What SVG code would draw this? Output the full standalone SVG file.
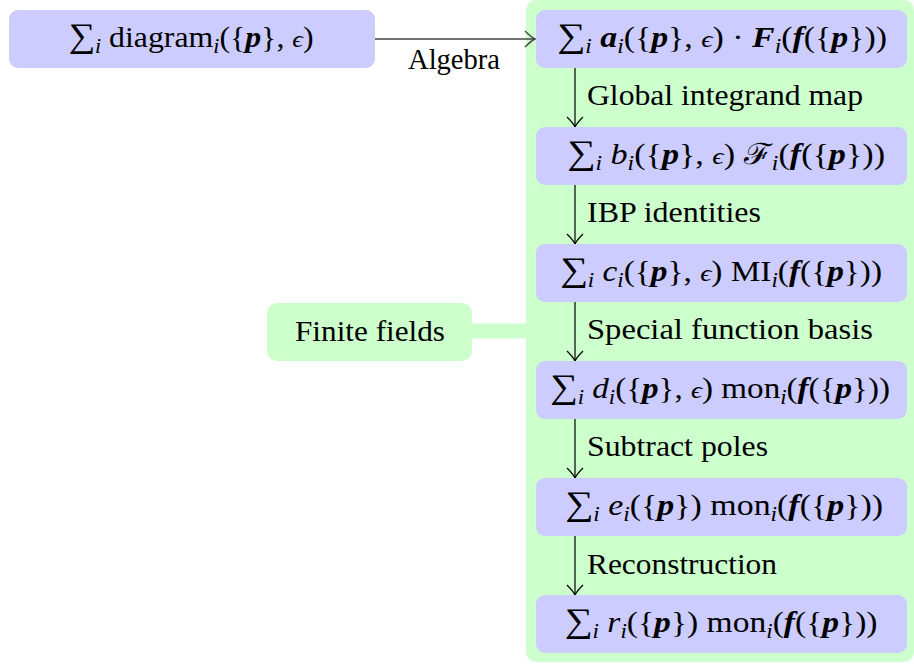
<svg xmlns="http://www.w3.org/2000/svg" width="914" height="666" viewBox="0 0 914 666" font-family="'Liberation Serif', 'DejaVu Serif', serif">
<style>
.bg{fill:#ccffcc}
.node{fill:#ccccff}
.ff{fill:#ccffcc}
text{font-size:29px;fill:#000}
.m{text-anchor:middle}
.it{font-style:italic}
.bi{font-style:italic;font-weight:bold}
.sub{font-size:20px;font-style:italic}
.sum{font-size:34px}
.eps{font-style:italic;font-size:24px}
.cal{font-style:normal}
.arr{fill:none;stroke:#000;stroke-width:1.2}
.harr{fill:none;stroke:#444;stroke-width:1.5}
.band{fill:none;stroke:#ccffcc;stroke-width:15}
</style>
<defs>
<marker id="to" markerUnits="userSpaceOnUse" viewBox="-12 -10 14 20" markerWidth="14" markerHeight="20" refX="0" refY="0" orient="auto" overflow="visible">
<path d="M -10,-8 Q -3.5,-1.5 0,0 Q -3.5,1.5 -10,8" fill="none" stroke="#000" stroke-width="1.2"/>
</marker>
<marker id="toh" markerUnits="userSpaceOnUse" viewBox="-12 -10 14 20" markerWidth="14" markerHeight="20" refX="0" refY="0" orient="auto" overflow="visible">
<path d="M -10,-8 Q -3.5,-1.5 0,0 Q -3.5,1.5 -10,8" fill="none" stroke="#444" stroke-width="1.4"/>
</marker>
</defs>
<g id="group-bg"><rect class="bg" x="526" y="0" width="388" height="662" rx="10"/></g>
<g id="connectors">
<line class="band" x1="470" y1="331" x2="528" y2="331"/>
<line class="harr" x1="375" y1="39" x2="535" y2="39" marker-end="url(#toh)"/>
<line class="arr" x1="575" y1="68" x2="575" y2="127" marker-end="url(#to)"/>
<line class="arr" x1="575" y1="185" x2="575" y2="244" marker-end="url(#to)"/>
<line class="arr" x1="575" y1="302" x2="575" y2="361" marker-end="url(#to)"/>
<line class="arr" x1="575" y1="419" x2="575" y2="478" marker-end="url(#to)"/>
<line class="arr" x1="575" y1="536" x2="575" y2="595" marker-end="url(#to)"/>
<text font-family="Liberation Serif" x="408" y="69" textLength="92" lengthAdjust="spacingAndGlyphs">Algebra</text>
<text font-family="Liberation Serif" x="587" y="105" textLength="276" lengthAdjust="spacingAndGlyphs">Global integrand map</text>
<text font-family="Liberation Serif" x="587" y="222" textLength="174" lengthAdjust="spacingAndGlyphs">IBP identities</text>
<text font-family="Liberation Serif" x="587" y="339" textLength="286" lengthAdjust="spacingAndGlyphs">Special function basis</text>
<text font-family="Liberation Serif" x="587" y="456" textLength="181" lengthAdjust="spacingAndGlyphs">Subtract poles</text>
<text font-family="Liberation Serif" x="587" y="574" textLength="190" lengthAdjust="spacingAndGlyphs">Reconstruction</text>
</g>
<g id="node-diagram">
<rect class="node" x="9" y="10" width="366" height="58" rx="9"/>
<text class="m" x="191" y="47" textLength="245" lengthAdjust="spacingAndGlyphs"><tspan class="sum">∑</tspan><tspan class="sub" dy="6">i</tspan><tspan dy="-6"> diagram</tspan><tspan class="sub" dy="6">i</tspan><tspan dy="-6">({</tspan><tspan class="bi">p</tspan><tspan>}, </tspan><tspan class="eps">ϵ</tspan><tspan>)</tspan></text>
</g>
<g id="node-a">
<rect class="node" x="536" y="10" width="371" height="58" rx="9"/>
<text class="m" x="722" y="47" textLength="330" lengthAdjust="spacingAndGlyphs"><tspan class="sum">∑</tspan><tspan class="sub" dy="6">i</tspan><tspan dy="-6" class="bi"> a</tspan><tspan class="sub" dy="6">i</tspan><tspan dy="-6">({</tspan><tspan class="bi">p</tspan><tspan>}, </tspan><tspan class="eps">ϵ</tspan><tspan>) · </tspan><tspan class="bi">F</tspan><tspan class="sub" dy="6">i</tspan><tspan dy="-6">(</tspan><tspan class="bi">f</tspan><tspan>({</tspan><tspan class="bi">p</tspan><tspan>}))</tspan></text>
</g>
<g id="node-b">
<rect class="node" x="536" y="127" width="371" height="58" rx="9"/>
<text class="m" x="726" y="164" textLength="318" lengthAdjust="spacingAndGlyphs"><tspan class="sum">∑</tspan><tspan class="sub" dy="6">i</tspan><tspan dy="-6" class="it"> b</tspan><tspan class="sub" dy="6">i</tspan><tspan dy="-6">({</tspan><tspan class="bi">p</tspan><tspan>}, </tspan><tspan class="eps">ϵ</tspan><tspan>) </tspan><tspan class="cal">ℱ</tspan><tspan class="sub" dy="6">i</tspan><tspan dy="-6">(</tspan><tspan class="bi">f</tspan><tspan>({</tspan><tspan class="bi">p</tspan><tspan>}))</tspan></text>
</g>
<g id="node-c">
<rect class="node" x="536" y="244" width="371" height="58" rx="9"/>
<text class="m" x="721" y="281" textLength="322" lengthAdjust="spacingAndGlyphs"><tspan class="sum">∑</tspan><tspan class="sub" dy="6">i</tspan><tspan dy="-6" class="it"> c</tspan><tspan class="sub" dy="6">i</tspan><tspan dy="-6">({</tspan><tspan class="bi">p</tspan><tspan>}, </tspan><tspan class="eps">ϵ</tspan><tspan>) MI</tspan><tspan class="sub" dy="6">i</tspan><tspan dy="-6">(</tspan><tspan class="bi">f</tspan><tspan>({</tspan><tspan class="bi">p</tspan><tspan>}))</tspan></text>
</g>
<g id="node-d">
<rect class="node" x="536" y="361" width="371" height="58" rx="9"/>
<text class="m" x="720" y="398" textLength="340" lengthAdjust="spacingAndGlyphs"><tspan class="sum">∑</tspan><tspan class="sub" dy="6">i</tspan><tspan dy="-6" class="it"> d</tspan><tspan class="sub" dy="6">i</tspan><tspan dy="-6">({</tspan><tspan class="bi">p</tspan><tspan>}, </tspan><tspan class="eps">ϵ</tspan><tspan>) mon</tspan><tspan class="sub" dy="6">i</tspan><tspan dy="-6">(</tspan><tspan class="bi">f</tspan><tspan>({</tspan><tspan class="bi">p</tspan><tspan>}))</tspan></text>
</g>
<g id="node-e">
<rect class="node" x="536" y="478" width="371" height="58" rx="9"/>
<text class="m" x="724" y="515" textLength="318" lengthAdjust="spacingAndGlyphs"><tspan class="sum">∑</tspan><tspan class="sub" dy="6">i</tspan><tspan dy="-6" class="it"> e</tspan><tspan class="sub" dy="6">i</tspan><tspan dy="-6">({</tspan><tspan class="bi">p</tspan><tspan>}) mon</tspan><tspan class="sub" dy="6">i</tspan><tspan dy="-6">(</tspan><tspan class="bi">f</tspan><tspan>({</tspan><tspan class="bi">p</tspan><tspan>}))</tspan></text>
</g>
<g id="node-f">
<rect class="node" x="536" y="595" width="371" height="58" rx="9"/>
<text class="m" x="721" y="632" textLength="313" lengthAdjust="spacingAndGlyphs"><tspan class="sum">∑</tspan><tspan class="sub" dy="6">i</tspan><tspan dy="-6" class="it"> r</tspan><tspan class="sub" dy="6">i</tspan><tspan dy="-6">({</tspan><tspan class="bi">p</tspan><tspan>}) mon</tspan><tspan class="sub" dy="6">i</tspan><tspan dy="-6">(</tspan><tspan class="bi">f</tspan><tspan>({</tspan><tspan class="bi">p</tspan><tspan>}))</tspan></text>
</g>
<g id="node-finite-fields">
<rect class="ff" x="267" y="303" width="205" height="58" rx="10"/>
<text font-family="Liberation Serif" x="295" y="341" textLength="150" lengthAdjust="spacingAndGlyphs">Finite fields</text>
</g>
</svg>
